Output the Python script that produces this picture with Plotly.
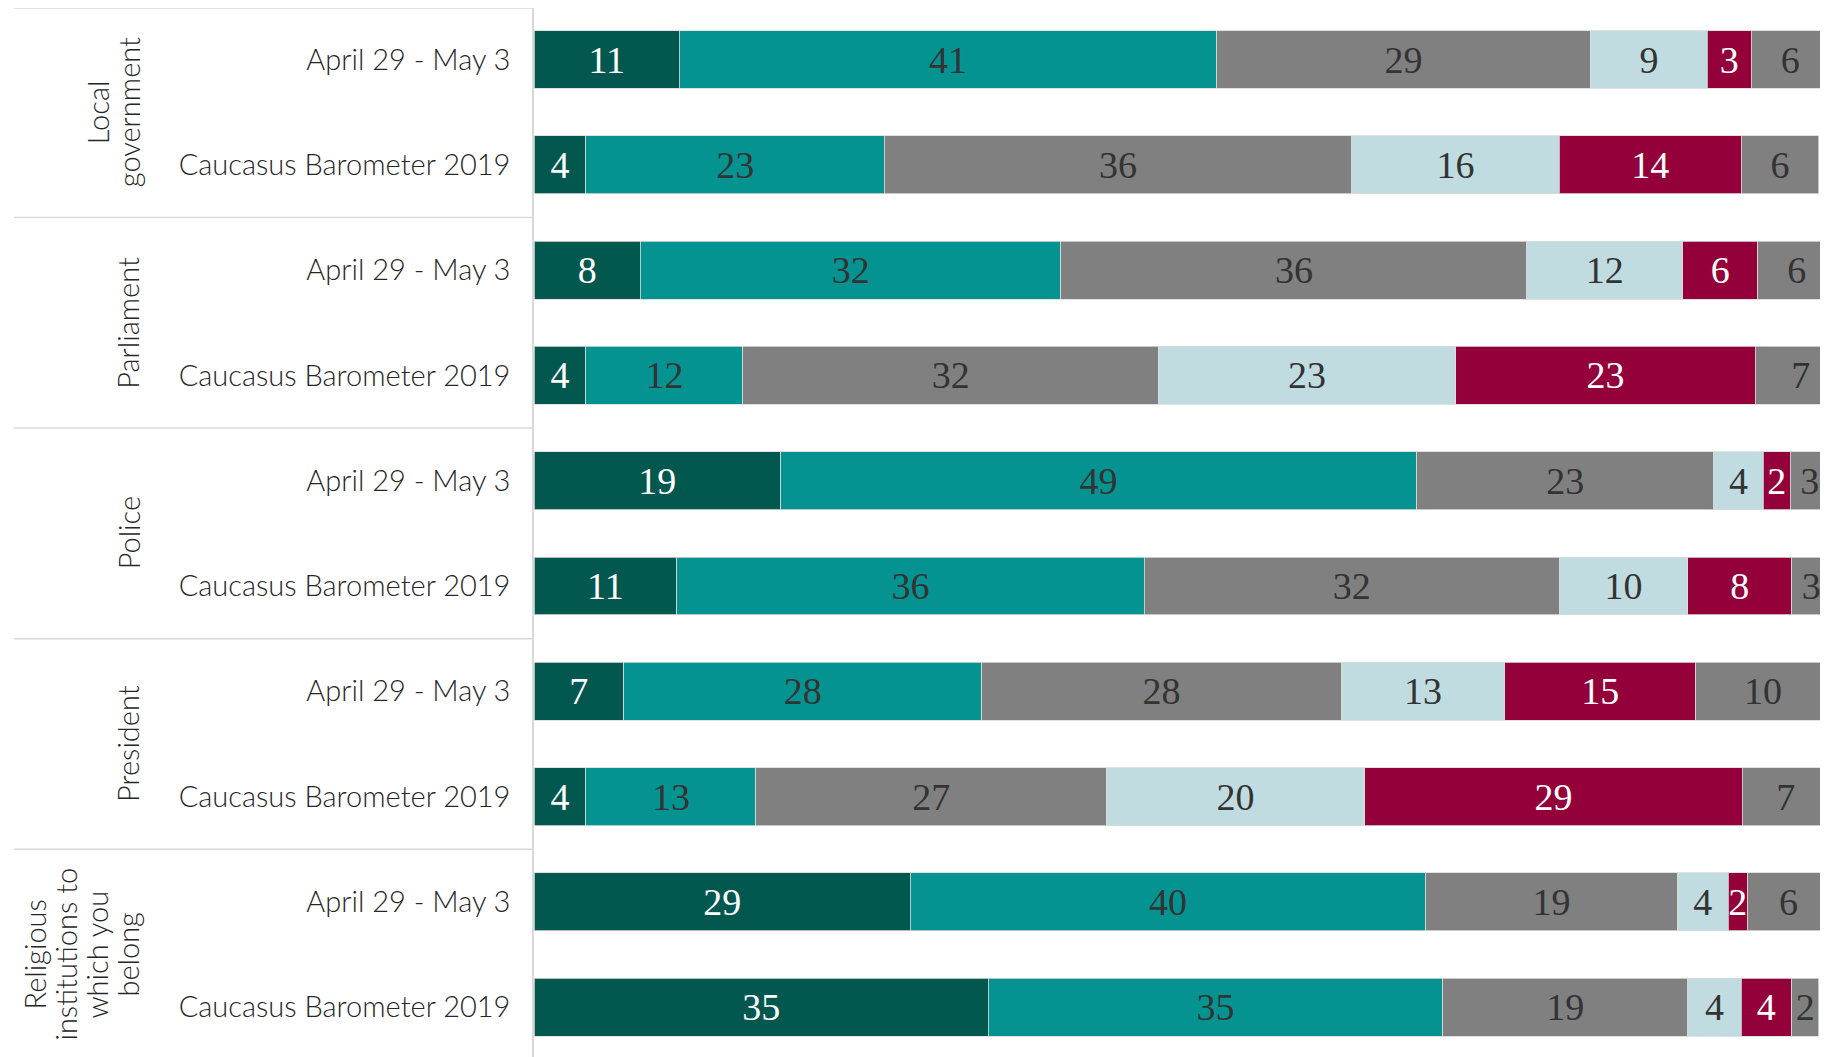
import plotly.graph_objects as go

groups = [["Local", "government"], ["Parliament"], ["Police"], ["President"],
          ["Religious", "institutions to", "which you", "belong"]]
periods = ["April 29 - May 3", "Caucasus Barometer 2019"]

series_names = ["Fully trust", "Somewhat trust", "Neither trust nor distrust",
                "Somewhat distrust", "Fully distrust", "Don't know / Refuse"]

# rows (top to bottom): LG Apr, LG CB, Parl Apr, Parl CB, Police Apr, Police CB,
# President Apr, President CB, Religious Apr, Religious CB
fully_trust       = [11.2, 4.0, 8.2, 4.0, 19.0, 11.0, 6.9, 4.0, 29.0, 35.0]
somewhat_trust    = [41.4, 23.0, 32.4, 12.1, 49.0, 36.0, 27.6, 13.1, 39.7, 35.0]
neither           = [28.8, 36.0, 35.9, 32.0, 22.9, 32.0, 27.7, 27.0, 19.4, 18.9]
somewhat_distrust = [9.0, 16.0, 12.0, 22.9, 3.8, 9.9, 12.6, 19.9, 3.9, 4.1]
fully_distrust    = [3.4, 14.0, 5.8, 23.1, 2.1, 8.0, 14.7, 29.1, 1.5, 3.9]
dk_ra             = [6.0, 6.0, 6.0, 7.0, 3.0, 3.0, 10.4, 6.7, 6.3, 2.1]

series_values = [fully_trust, somewhat_trust, neither, somewhat_distrust, fully_distrust, dk_ra]
colors = ["#02574F", "#059391", "#808080", "#C1DCE0", "#93003A", "#808080"]
text_colors = ["#FFFFFF", "#333333", "#333333", "#333333", "#FFFFFF", "#333333"]

# the page body has an 8px default margin, so the figure is drawn 8px in
OFF = 8
W, H = 1828 - OFF, 1057 - OFF
ML, MR, MT, MB = 534 - OFF, 0, 0, 0
PW = W - ML - MR
PH = H - MT - MB
ROW_PX = 105.3
FIRST_CENTER_PX = 59.5 - OFF
y_top = -FIRST_CENTER_PX / ROW_PX
y_bottom = y_top + PH / ROW_PX

BAR_FONT = dict(family="Liberation Serif, DejaVu Serif, serif", size=38)
LABEL_FONT = "Lato, Noto Sans, sans-serif"

row_labels = [p for _ in groups for p in periods]
rows = list(range(len(row_labels)))

fig = go.Figure()
n_series = len(series_values)
for k, (name, vals, col, tc) in enumerate(zip(series_names, series_values, colors, text_colors)):
    last = (k == n_series - 1)
    fig.add_trace(go.Bar(
        y=rows, x=vals, name=name, orientation="h",
        marker=dict(color=col, line=dict(color="#D9D9D9", width=0.8)),
        text=None if last else [f"{v:.0f}" for v in vals],
        textposition="none" if last else "inside",
        insidetextanchor="middle", textangle=0,
        textfont=dict(color=tc, **BAR_FONT),
        width=0.55, showlegend=False,
    ))

# labels of the last (right-most) segment, which runs past the visible edge;
# nudged down slightly so the baseline matches the in-bar labels
TEXT_NUDGE = 3.5 / ROW_PX
starts = [sum(series_values[k][i] for k in range(n_series - 1)) for i in rows]
fig.add_trace(go.Scatter(
    x=[s + v / 2 for s, v in zip(starts, dk_ra)], y=[r + TEXT_NUDGE for r in rows],
    mode="text", text=[f"{v:.0f}" for v in dk_ra], textposition="middle center",
    textfont=dict(color=text_colors[-1], **BAR_FONT),
    cliponaxis=False, showlegend=False, hoverinfo="skip",
))

def px2paper(px):
    return (px - OFF - ML) / PW

sep_line = dict(color="#D9D9D9", width=1.5)
shapes = [dict(type="line", xref="paper", yref="paper", x0=px2paper(14), x1=0,
               y0=1, y1=1, line=sep_line)]
for b in [1.5, 3.5, 5.5, 7.5]:
    shapes.append(dict(type="line", xref="paper", yref="y",
                       x0=px2paper(14), x1=0, y0=b, y1=b, line=sep_line))

annotations = []
LINE_STEP = 31
LAST_LINE_X = 128
for i, lines in enumerate(groups):
    n = len(lines)
    for j, line in enumerate(lines):
        xpx = LAST_LINE_X - (n - 1 - j) * LINE_STEP
        annotations.append(dict(
            text=line, xref="paper", yref="y", x=px2paper(xpx), y=2 * i + 0.5,
            xanchor="center", yanchor="middle", textangle=-90, showarrow=False,
            font=dict(family=LABEL_FONT, size=29, color="#262626", weight=300),
        ))

fig.update_layout(
    width=W, height=H,
    margin=dict(l=ML, r=MR, t=MT, b=MB, pad=0, autoexpand=False),
    barmode="stack", bargap=0.45,
    plot_bgcolor="white", paper_bgcolor="white",
    uniformtext=dict(minsize=38, mode="show"),
    shapes=shapes, annotations=annotations,
    xaxis=dict(range=[0, 99.7], visible=False, fixedrange=True, automargin=False),
    yaxis=dict(range=[y_bottom, y_top], tickmode="array", tickvals=rows, ticktext=row_labels,
               showgrid=False, zeroline=False, showline=True, linecolor="#D9D9D9",
               linewidth=1.5, ticks="", ticklabelstandoff=16, automargin=False,
               tickfont=dict(family=LABEL_FONT, size=29, color="#262626", weight=300)),
)

fig.write_html("out.html")
